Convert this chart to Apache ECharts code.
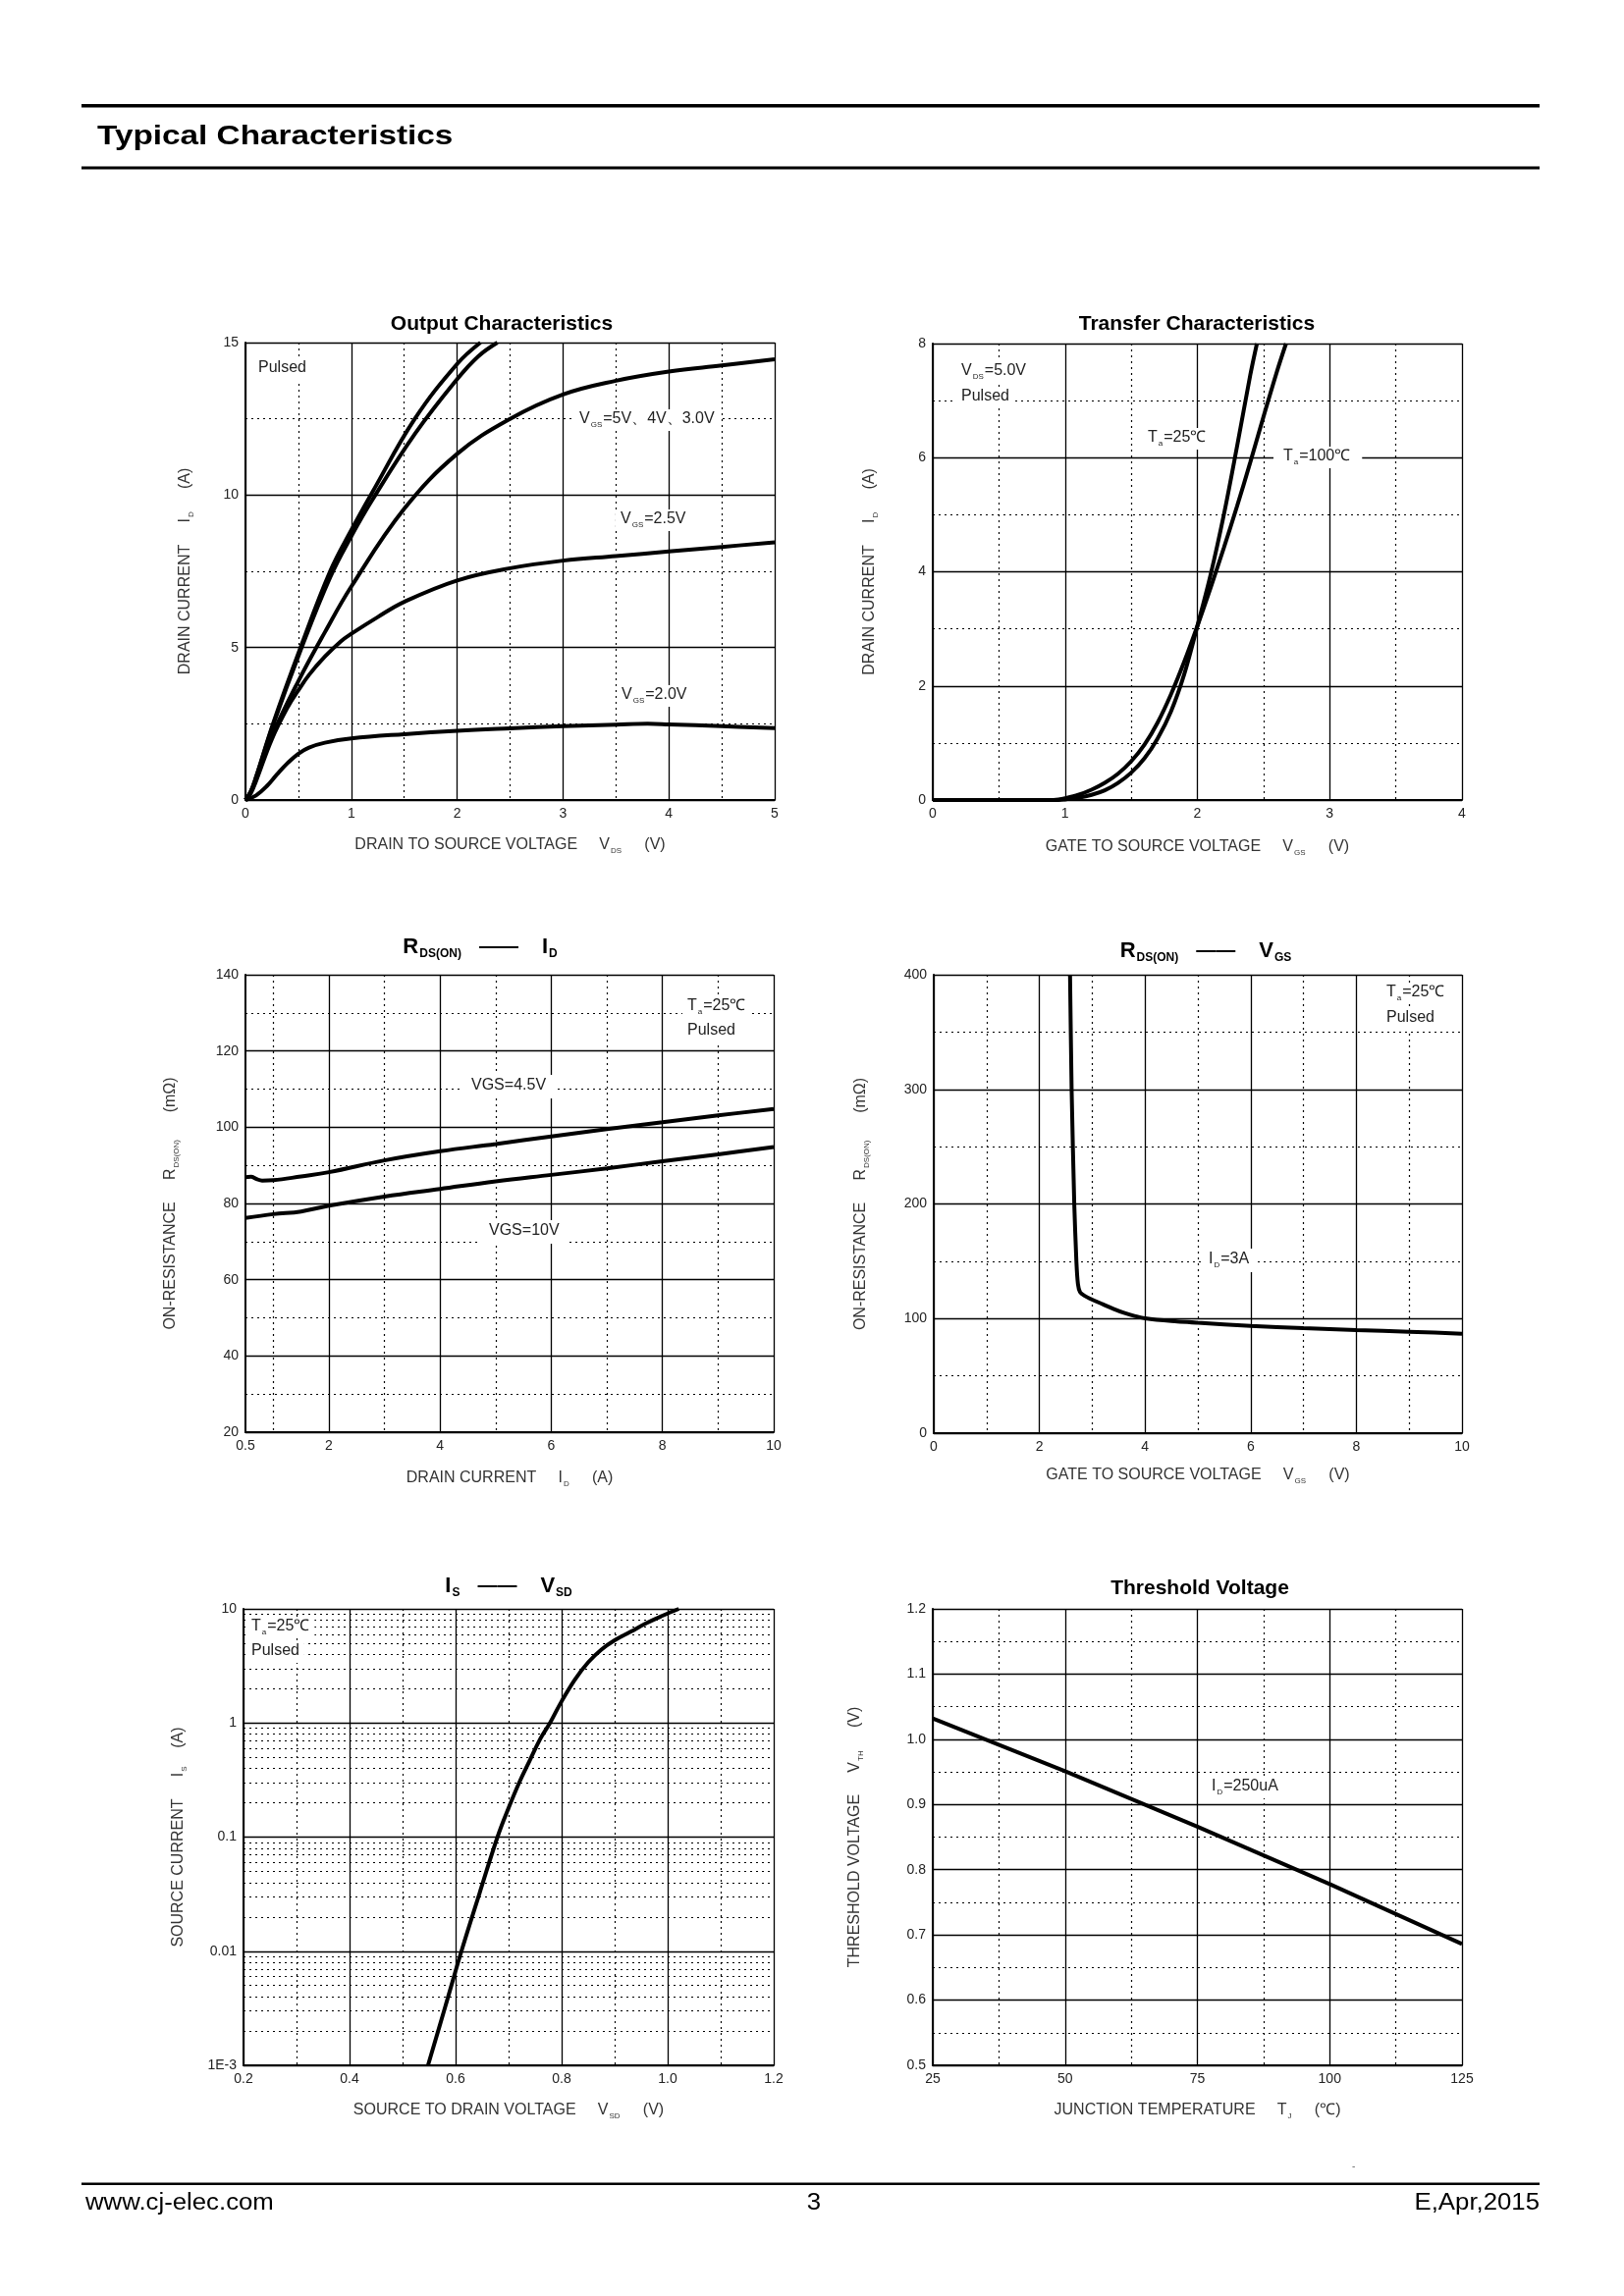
<!DOCTYPE html>
<html>
<head>
<meta charset="utf-8">
<script src="https://cdn.jsdelivr.net/npm/echarts@6/dist/echarts.min.js"></script>
<style>
  html, body { margin: 0; padding: 0; background: #fff; }
  #page { width: 1654px; height: 2339px; }
</style>
</head>
<body>
<div id="page"></div>
<script>
const FONT = '"Liberation Sans", Arial, Helvetica, sans-serif';
const INK = '#222';

// Output characteristics, [VDS (V), ID (A)]
const out5V = [[0,0],[0.05,0.28],[0.1,0.75],[0.26,2.5],[0.52,5.0],[0.8,7.5],[1.0,8.85],[1.2,10.1],[1.6,12.5],[2.0,14.3],[2.22,15]];
const out4V = [[0,0],[0.05,0.28],[0.1,0.75],[0.26,2.45],[0.52,4.9],[0.8,7.3],[1.0,8.65],[1.2,9.85],[1.6,12.0],[2.0,13.8],[2.2,14.55],[2.38,15]];
const out3V = [[0,0],[0.05,0.25],[0.1,0.68],[0.25,2.1],[0.5,3.9],[0.75,5.5],[1.0,7.0],[1.5,9.55],[2.0,11.35],[2.5,12.5],[3.0,13.3],[3.5,13.75],[4.0,14.05],[4.5,14.25],[5.0,14.45]];
const out25V = [[0,0],[0.05,0.22],[0.1,0.62],[0.25,2.0],[0.4,3.05],[0.5,3.6],[0.6,4.1],[0.75,4.7],[0.9,5.2],[1.0,5.45],[1.25,6.0],[1.5,6.5],[2.0,7.2],[2.5,7.6],[3.0,7.85],[3.5,8.0],[4.0,8.15],[4.5,8.3],[5.0,8.45]];
const out2V = [[0,0],[0.1,0.15],[0.2,0.45],[0.3,0.85],[0.4,1.22],[0.5,1.52],[0.6,1.72],[0.75,1.88],[1.0,2.02],[1.5,2.16],[2.0,2.27],[2.5,2.35],[3.0,2.42],[3.5,2.47],[3.8,2.5],[4.0,2.48],[4.5,2.42],[5.0,2.36]];

// Transfer characteristics, [VGS (V), ID (A)]
const tr25 = [[0,0],[0.95,0],[1.0,0.01],[1.1,0.04],[1.2,0.09],[1.3,0.17],[1.4,0.3],[1.5,0.48],[1.6,0.73],[1.7,1.08],[1.8,1.55],[1.9,2.2],[2.0,3.05],[2.1,3.95],[2.2,5.0],[2.3,6.2],[2.4,7.45],[2.45,8]];
const tr100 = [[0,0],[0.88,0],[0.95,0.01],[1.0,0.03],[1.1,0.09],[1.2,0.18],[1.3,0.3],[1.4,0.46],[1.5,0.68],[1.6,0.97],[1.7,1.36],[1.8,1.85],[1.9,2.42],[2.0,3.05],[2.1,3.72],[2.2,4.42],[2.3,5.15],[2.4,5.92],[2.5,6.72],[2.6,7.5],[2.67,8]];

// RDS(ON) vs ID, [ID (A), R (mOhm)]
const ron45 = [[0.5,86.9],[0.6,87.0],[0.7,86.4],[0.8,86.0],[1.0,86.1],[1.5,87.1],[2,88.2],[3,91.3],[4,93.7],[5,95.6],[6,97.6],[7,99.5],[8,101.3],[9,103.1],[10,104.8]];
const ron10 = [[0.5,76.2],[1,77.2],[1.5,77.9],[2,79.4],[3,81.8],[4,83.8],[5,85.8],[6,87.5],[7,89.2],[8,91.1],[9,92.9],[10,94.8]];

// RDS(ON) vs VGS, [VGS (V), R (mOhm)]
const ronVgs = [[2.58,400],[2.61,300],[2.66,200],[2.7,150],[2.73,130],[2.77,123],[2.85,120],[3.0,116.5],[3.2,112.5],[3.4,108.5],[3.6,105],[3.8,102.2],[4.0,100.2],[4.5,97.8],[5,96.3],[6,93.6],[7,91.6],[8,90],[9,88.5],[10,86.8]];

// IS vs VSD, [VSD (V), IS (A)]
const isVsd = [[0.548,0.001],[0.58,0.0032],[0.611,0.01],[0.645,0.032],[0.679,0.1],[0.7,0.18],[0.72,0.3],[0.74,0.47],[0.76,0.73],[0.778,1.0],[0.8,1.55],[0.825,2.4],[0.85,3.4],[0.875,4.4],[0.9,5.3],[0.93,6.3],[0.96,7.5],[0.99,8.7],[1.021,10]];

// Threshold voltage, [TJ (C), VTH (V)]
const vthT = [[25,1.032],[50,0.951],[75,0.866],[100,0.778],[125,0.686]];

// tick values
const xTicks1 = [0,1,2,3,4,5], xMinor1 = [0.5,1.5,2.5,3.5,4.5];
const yTicks1 = [0,5,10,15], yMinor1 = [2.5,7.5,12.5];
const xTicks2 = [0,1,2,3,4], xMinor2 = [0.5,1.5,2.5,3.5];
const yTicks2 = [0,2,4,6,8], yMinor2 = [1,3,5,7];
const xTicks3 = [2,4,6,8,10], xLabels3 = [0.5,2,4,6,8,10], xMinor3 = [1,3,5,7,9];
const yTicks3 = [20,40,60,80,100,120,140], yMinor3 = [30,50,70,90,110,130];
const xTicks4 = [0,2,4,6,8,10], xMinor4 = [1,3,5,7,9];
const yTicks4 = [0,100,200,300,400], yMinor4 = [50,150,250,350];
const xTicks5 = [0.2,0.4,0.6,0.8,1.0,1.2], xMinor5 = [0.3,0.5,0.7,0.9,1.1];
const yLabels5 = ['1E-3','0.01','0.1','1','10'];
const yDecades5 = [-3,-2,-1,0];
const xTicks6 = [25,50,75,100,125], xMinor6 = [37.5,62.5,87.5,112.5];
const yTicks6 = [0.5,0.6,0.7,0.8,0.9,1.0,1.1,1.2], yMinor6 = [0.55,0.65,0.75,0.85,0.95,1.05,1.15];

// dotted log grid positions (2..9 in every decade), in log10 units
const yMinor5 = [];
yDecades5.forEach(d => { for (let k = 2; k <= 9; k++) yMinor5.push(Math.log10(k) + d); });

const nameRich = {
  n: {fontFamily: FONT, fontSize: 16, color: '#333', lineHeight: 18, verticalAlign: 'top'},
  s: {fontFamily: FONT, fontSize: 8, color: '#333', lineHeight: 8, verticalAlign: 'bottom', padding: [10, 1, 0, 1]}
};
const annRich = {
  n: {fontFamily: FONT, fontSize: 16, fill: INK, lineHeight: 18, verticalAlign: 'top'},
  s: {fontFamily: FONT, fontSize: 8, fill: INK, lineHeight: 8, verticalAlign: 'bottom', padding: [10, 1, 0, 1]}
};
const titleRich = {
  b: {fontFamily: FONT, fontSize: 22, fontWeight: 'bold', fill: '#000', lineHeight: 24, verticalAlign: 'top'},
  bs: {fontFamily: FONT, fontSize: 12, fontWeight: 'bold', fill: '#000', lineHeight: 12, verticalAlign: 'bottom', padding: [16, 0, 0, 1]},
  d: {fontFamily: FONT, fontSize: 20, fontWeight: 'bold', fill: '#000', lineHeight: 24, verticalAlign: 'top', padding: [0, 24, 0, 18]}
};

const fix1 = v => v.toFixed(1);

const plots = [
  { box: [250, 349, 539, 466], smooth: 0.4,
    x: {min: 0, max: 5, major: xTicks1, minor: xMinor1, gap: 38,
        name: '{n|DRAIN TO SOURCE VOLTAGE     V}{s|DS}{n|     (V)}'},
    y: {min: 0, max: 15, major: yTicks1, minor: yMinor1, gap: 51,
        name: '{n|DRAIN CURRENT     I}{s|D}{n|     (A)}'},
    lines: [out5V, out4V, out3V, out25V, out2V] },
  { box: [950, 350, 539, 465], smooth: 0.35,
    x: {min: 0, max: 4, major: xTicks2, minor: xMinor2, gap: 40,
        name: '{n|GATE TO SOURCE VOLTAGE     V}{s|GS}{n|     (V)}'},
    y: {min: 0, max: 8, major: yTicks2, minor: yMinor2, gap: 54,
        name: '{n|DRAIN CURRENT     I}{s|D}{n|     (A)}'},
    lines: [tr25, tr100] },
  { box: [250, 993, 538, 466], smooth: 0.4,
    x: {min: 0.5, max: 10, major: xTicks3, labels: xLabels3, minor: xMinor3, gap: 39,
        name: '{n|DRAIN CURRENT     I}{s|D}{n|     (A)}'},
    y: {min: 20, max: 140, major: yTicks3, minor: yMinor3, gap: 66,
        name: '{n|ON-RESISTANCE     R}{s|DS(ON)}{n|      (mΩ)}'},
    lines: [ron45, ron10] },
  { box: [951, 993, 538, 467], smooth: 0.2,
    x: {min: 0, max: 10, major: xTicks4, minor: xMinor4, gap: 35,
        name: '{n|GATE TO SOURCE VOLTAGE     V}{s|GS}{n|     (V)}'},
    y: {min: 0, max: 400, major: yTicks4, minor: yMinor4, gap: 64,
        name: '{n|ON-RESISTANCE     R}{s|DS(ON)}{n|      (mΩ)}'},
    lines: [ronVgs] },
  { box: [248, 1639, 540, 465], smooth: 0.4,
    x: {min: 0.2, max: 1.2, major: xTicks5, minor: xMinor5, gap: 38, fmt: fix1,
        name: '{n|SOURCE TO DRAIN VOLTAGE     V}{s|SD}{n|     (V)}'},
    y: {type: 'log', min: 0.001, max: 10, minor: yMinor5, minorMin: -3, minorMax: 1, gap: 56,
        fmt: v => yLabels5[Math.round(Math.log10(v)) + 3],
        name: '{n|SOURCE CURRENT     I}{s|S}{n|    (A)}'},
    lines: [isVsd] },
  { box: [950, 1639, 539, 465], smooth: false,
    x: {min: 25, max: 125, major: xTicks6, minor: xMinor6, gap: 38,
        name: '{n|JUNCTION TEMPERATURE     T}{s|J}{n|     (℃)}'},
    y: {min: 0.5, max: 1.2, major: yTicks6, minor: yMinor6, gap: 69, fmt: fix1,
        name: '{n|THRESHOLD VOLTAGE     V}{s|TH}{n|     (V)}'},
    lines: [vthT] }
];

function mainAxis(gi, dim, a) {
  const isLog = a.type === 'log';
  const ax = {
    gridIndex: gi, type: isLog ? 'log' : 'value', min: a.min, max: a.max,
    position: dim === 'x' ? 'bottom' : 'left',
    name: a.name, nameLocation: 'middle', nameGap: a.gap,
    nameTextStyle: {fontFamily: FONT, fontSize: 16, color: '#333', rich: nameRich},
    axisLine: {show: true, onZero: false, lineStyle: {color: '#000', width: 2}},
    axisTick: {show: false},
    axisLabel: {color: INK, fontSize: 14, fontFamily: FONT, margin: 7, formatter: a.fmt},
    splitLine: {show: true, lineStyle: {color: '#000', width: 1.3}},
    minorTick: {show: false}, minorSplitLine: {show: false}
  };
  if (isLog) {
    ax.logBase = 10;
  } else {
    ax.axisTick.customValues = a.major;
    ax.axisLabel.customValues = a.labels || a.major;
  }
  return ax;
}

function minorAxis(gi, dim, a) {
  return {
    gridIndex: gi, type: 'value',
    min: a.minorMin !== undefined ? a.minorMin : a.min,
    max: a.minorMax !== undefined ? a.minorMax : a.max,
    position: dim === 'x' ? 'top' : 'right',
    axisLine: {show: false},
    axisTick: {show: false, customValues: a.minor},
    axisLabel: {show: false},
    splitLine: {show: true, lineStyle: {color: '#000', width: 1.2, type: [2, 4]}}
  };
}

const grids = [], xAxes = [], yAxes = [], series = [];
plots.forEach((p, gi) => {
  grids.push({left: p.box[0], top: p.box[1], width: p.box[2], height: p.box[3],
              containLabel: false, outerBoundsMode: 'none'});
  xAxes.push(mainAxis(gi, 'x', p.x), minorAxis(gi, 'x', p.x));
  yAxes.push(mainAxis(gi, 'y', p.y), minorAxis(gi, 'y', p.y));
  p.lines.forEach(d => series.push({
    type: 'line', xAxisIndex: 2 * gi, yAxisIndex: 2 * gi, data: d,
    showSymbol: false, symbol: 'none', smooth: p.smooth, clip: true,
    silent: true, lineStyle: {color: '#000', width: 4}, z: 5
  }));
});

function txt(x, y, text, o) {
  o = o || {};
  return {
    type: 'text', x: x, y: y, z: 100, silent: true, scaleX: o.scaleX || 1,
    style: {
      text: text, fontFamily: FONT, fontSize: o.size || 16,
      fontWeight: o.bold ? 'bold' : 'normal', fill: o.color || INK,
      align: o.align || 'left', verticalAlign: 'middle',
      rich: o.rich, backgroundColor: o.bg, padding: o.pad
    }
  };
}
// annotation with white box that hides the grid lines behind it
function ann(x, y, text) {
  return txt(x - 5, y, text, {rich: annRich, bg: '#fff', pad: [2, 5, 2, 5]});
}

const graphics = [
  // page header
  {type: 'rect', z: 100, shape: {x: 83, y: 106, width: 1485, height: 3.5}, style: {fill: '#000'}},
  txt(99, 139, 'Typical Characteristics', {size: 28, bold: true, color: '#000', scaleX: 1.19}),
  {type: 'rect', z: 100, shape: {x: 83, y: 169.5, width: 1485, height: 3}, style: {fill: '#000'}},
  // chart titles
  txt(511, 330, 'Output Characteristics', {size: 21, bold: true, color: '#000', align: 'center'}),
  txt(1219, 330, 'Transfer Characteristics', {size: 21, bold: true, color: '#000', align: 'center'}),
  txt(489, 966, '{b|R}{bs|DS(ON)}{d|——}{b|I}{bs|D}', {rich: titleRich, align: 'center'}),
  txt(1228, 970, '{b|R}{bs|DS(ON)}{d|——}{b|V}{bs|GS}', {rich: titleRich, align: 'center'}),
  txt(518, 1617, '{b|I}{bs|S}{d|——}{b|V}{bs|SD}', {rich: titleRich, align: 'center'}),
  txt(1222, 1618, 'Threshold Voltage', {size: 21, bold: true, color: '#000', align: 'center'}),
  // chart 1 notes
  ann(263, 376, '{n|Pulsed}'),
  ann(590, 428, '{n|V}{s|GS}{n|=5V、4V、3.0V}'),
  ann(632, 530, '{n|V}{s|GS}{n|=2.5V}'),
  ann(633, 709, '{n|V}{s|GS}{n|=2.0V}'),
  // chart 2 notes
  ann(979, 379, '{n|V}{s|DS}{n|=5.0V}'),
  ann(979, 405, '{n|Pulsed}'),
  ann(1169, 447, '{n|T}{s|a}{n|=25℃}'),
  txt(1297, 466, '{n|T}{s|a}{n|=100℃}', {rich: annRich, bg: '#fff', pad: [2, 12, 2, 10]}),
  // chart 3 notes
  ann(700, 1026, '{n|T}{s|a}{n|=25℃}'),
  ann(700, 1051, '{n|Pulsed}'),
  txt(470, 1107, '{n|VGS=4.5V}', {rich: annRich, bg: '#fff', pad: [3, 10, 3, 10]}),
  txt(488, 1255, '{n|VGS=10V}', {rich: annRich, bg: '#fff', pad: [3, 10, 3, 10]}),
  // chart 4 notes
  ann(1412, 1012, '{n|T}{s|a}{n|=25℃}'),
  ann(1412, 1038, '{n|Pulsed}'),
  txt(1223, 1284, '{n|I}{s|D}{n|=3A}', {rich: annRich, bg: '#fff', pad: [3, 8, 3, 8]}),
  // chart 5 notes
  ann(256, 1658, '{n|T}{s|a}{n|=25℃}'),
  ann(256, 1683, '{n|Pulsed}'),
  // chart 6 notes
  ann(1234, 1821, '{n|I}{s|D}{n|=250uA}'),
  // footer
  txt(1377, 2207, '-', {size: 10, color: '#666'}),
  {type: 'rect', z: 100, shape: {x: 83, y: 2223.5, width: 1485, height: 2.5}, style: {fill: '#000'}},
  txt(87, 2245, 'www.cj-elec.com', {size: 23, color: '#000', scaleX: 1.12}),
  txt(829, 2245, '3', {size: 23, color: '#000', align: 'center', scaleX: 1.12}),
  txt(1568, 2245, 'E,Apr,2015', {size: 23, color: '#000', align: 'right', scaleX: 1.12})
];

const chart = echarts.init(document.getElementById('page'), null, {renderer: 'canvas'});
chart.setOption({
  animation: false,
  backgroundColor: '#fff',
  textStyle: {fontFamily: FONT},
  grid: grids,
  xAxis: xAxes,
  yAxis: yAxes,
  series: series,
  graphic: graphics
});
</script>
</body>
</html>
